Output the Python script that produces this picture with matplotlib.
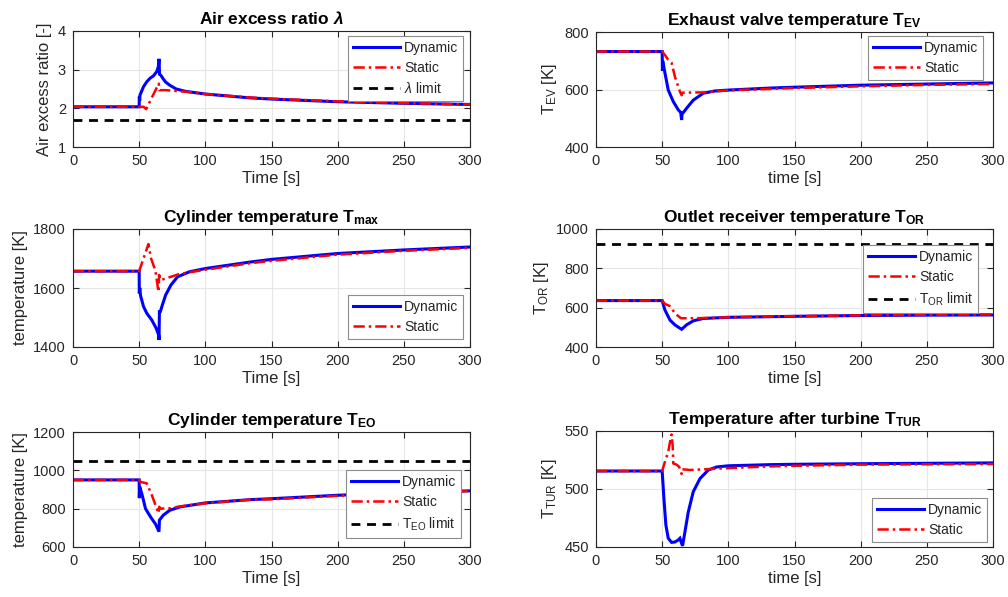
import matplotlib
matplotlib.use("Agg")
import matplotlib.pyplot as plt

plt.rcParams['font.family'] = ['Liberation Sans', 'DejaVu Sans']
plt.rcParams['mathtext.fontset'] = 'custom'
plt.rcParams['mathtext.rm'] = 'Liberation Sans'
plt.rcParams['mathtext.it'] = 'Liberation Sans:italic'
plt.rcParams['mathtext.bf'] = 'Liberation Sans:bold'
plt.rcParams['mathtext.bfit'] = 'Liberation Sans:italic:bold'

# ---------------- data ----------------
lam_dyn_t = [0, 50, 50.1, 50.4, 50.6, 53.3, 55.8, 58.3, 60.8, 63.3, 64.5, 65, 65.4, 66.5, 68.2, 70, 73, 78, 85, 100, 133.8, 150, 200, 250, 300]
lam_dyn = [2.04, 2.04, 2.3, 2.2, 2.34, 2.56, 2.69, 2.78, 2.84, 2.95, 3.08, 3.28, 2.88, 2.85, 2.76, 2.68, 2.6, 2.5, 2.44, 2.37, 2.27, 2.24, 2.17, 2.13, 2.10]
lam_sta_t = [0, 53.3, 55.3, 64.8, 65.3, 70, 85, 100, 133.8, 150, 200, 250, 300]
lam_sta = [2.04, 2.04, 1.98, 2.64, 2.47, 2.47, 2.43, 2.37, 2.28, 2.25, 2.18, 2.135, 2.10]
lam_limit = 1.7

ev_dyn_t = [0, 50, 50.2, 50.4, 52, 54.6, 58.4, 62.2, 64, 64.7, 65.1, 66, 68.5, 73.5, 81, 90, 100, 131.5, 150, 200, 250, 300]
ev_dyn = [732, 732, 665, 700, 660, 598, 558, 529, 520, 494, 518, 520, 535, 563, 587, 595, 598, 605, 608, 615, 619, 623]
ev_sta_t = [0, 50, 52.1, 54.6, 57.1, 59.6, 63.5, 64.7, 65.3, 81, 100, 131.5, 150, 200, 250, 300]
ev_sta = [732, 732, 720, 703, 693, 645, 592, 580, 589, 590, 597, 602, 605, 611, 616, 619]

tmax_dyn_t = [0, 50, 50.1, 50.5, 51, 53.3, 55.8, 59.6, 62.9, 64.8, 65, 65.3, 66, 67.5, 70, 74, 79, 88, 100, 133.8, 150, 200, 250, 300]
tmax_dyn = [1657, 1657, 1582, 1600, 1575, 1537, 1514, 1491, 1463, 1440, 1424, 1520, 1520, 1542, 1576, 1610, 1638, 1655, 1666, 1688, 1697, 1717, 1729, 1739]
tmax_sta_t = [0, 50, 57, 59, 62.2, 64.6, 65.1, 66.4, 80.8, 100, 133.8, 150, 200, 250, 300]
tmax_sta = [1657, 1657, 1749, 1700, 1660, 1587, 1644, 1627, 1648, 1662, 1684, 1692, 1713, 1726, 1736]

tor_dyn_t = [0, 50, 52.1, 55.9, 59.7, 64.7, 68.5, 73.5, 81, 100, 131.5, 150, 200, 250, 300]
tor_dyn = [636, 636, 588, 537, 512, 490, 513, 533, 545, 551, 554, 556, 560, 562, 563]
tor_sta_t = [0, 50, 52.1, 55.9, 59.7, 64.2, 81, 100, 131.5, 150, 200, 250, 300]
tor_sta = [636, 636, 619, 608, 571, 546, 547, 551, 555, 557, 561, 564, 566]
tor_limit = 925

teo_dyn_t = [0, 50, 50.1, 50.4, 52.3, 54.8, 58.6, 62.4, 65, 65.3, 68.2, 73.2, 80.8, 100, 133.8, 150, 200, 250, 300]
teo_dyn = [950, 950, 855, 915, 870, 800, 757, 719, 680, 740, 766, 792, 809, 830, 847, 852, 870, 884, 893]
teo_sta_t = [0, 50, 50.8, 55.8, 59.6, 64.6, 65.2, 66, 73, 80.8, 100, 133.8, 150, 200, 250, 300]
teo_sta = [950, 950, 940, 932, 870, 776, 810, 800, 802, 812, 828, 847, 849, 867, 882, 892]
teo_limit = 1050

tur_dyn_t = [0, 50, 51.3, 52.8, 54.6, 57.1, 59.6, 62.1, 63.4, 64.7, 65.4, 67.2, 69.7, 73.5, 78.6, 84.9, 91.2, 100, 131.5, 150, 200, 300]
tur_dyn = [515.5, 515.5, 492, 469, 457.5, 454, 454.3, 456, 457.5, 453, 451, 463, 480, 497.7, 509, 516.4, 519, 520, 521, 521.3, 521.8, 522.5]
tur_sta_t = [0, 50, 52.1, 54.6, 56.4, 57.1, 57.9, 58.4, 60.9, 62.9, 64, 64.7, 65.2, 71, 100, 131.5, 150, 200, 250, 300]
tur_sta = [515.5, 515.5, 523.5, 532, 543.7, 547, 538, 522, 521, 519, 515, 513, 517, 516.4, 518, 519.5, 520, 521, 521.3, 521.5]

# ---------------- figure ----------------
W, H = 1008, 597
fig = plt.figure(figsize=(W / 100, H / 100), dpi=100)

def rect(l, t, r, b):
    return [l / W, 1 - b / H, (r - l) / W, (b - t) / H]

TXT = '#262626'
BLUE = '#0000ff'
RED = '#ff0000'
dashdot = (0, (4.5, 1.6, 1.0, 1.6))
dashed = (0, (3.2, 2.4))

def setup(ax, ylim, yticks, xlabel, ylabel, title):
    ax.set_xlim(0, 300)
    ax.set_ylim(*ylim)
    ax.set_xticks([0, 50, 100, 150, 200, 250, 300])
    ax.set_yticks(yticks)
    ax.grid(True, color='#e6e6e6', linewidth=0.8)
    ax.set_axisbelow(True)
    ax.tick_params(direction='in', top=True, right=True, length=4, width=0.8,
                   labelsize=10.5, colors=TXT, pad=5)
    for s in ax.spines.values():
        s.set_color(TXT)
        s.set_linewidth(0.8)
    ax.set_xlabel(xlabel, fontsize=12, color=TXT, labelpad=2)
    ax.set_ylabel(ylabel, fontsize=12, color=TXT, labelpad=4)
    ax.set_title(title, fontsize=12.5, fontweight='bold', color='black', pad=5)

def plot_pair(ax, td, vd, ts, vs):
    ax.plot(td, vd, color=BLUE, lw=2.2, label='Dynamic', solid_joinstyle='miter')
    ax.plot(ts, vs, color=RED, lw=1.8, linestyle=dashdot, label='Static')

def legend(ax, x, y):
    lg = ax.legend(loc='upper left', bbox_to_anchor=(x / W, 1 - y / H),
                   bbox_transform=fig.transFigure, borderaxespad=0,
                   fontsize=10, frameon=True, fancybox=False, framealpha=1,
                   edgecolor='#8c8c8c', handlelength=3.4, handletextpad=0.3,
                   borderpad=0.35, labelspacing=0.45)
    lg.get_frame().set_linewidth(0.8)
    for t in lg.get_texts():
        t.set_color(TXT)
    return lg

L, R = 73, 470
L2, R2 = 596, 993

# 1 air excess ratio
ax = fig.add_axes(rect(L, 31, R, 147))
plot_pair(ax, lam_dyn_t, lam_dyn, lam_sta_t, lam_sta)
ax.axhline(lam_limit, color='black', lw=2.0, linestyle=dashed, label=r'$\lambda$ limit')
setup(ax, (1, 4), [1, 2, 3, 4], 'Time [s]', 'Air excess ratio [-]', r'Air excess ratio $\mathbfit{\lambda}$')
legend(ax, 348, 36)

# 2 exhaust valve
ax = fig.add_axes(rect(L2, 32, R2, 147))
plot_pair(ax, ev_dyn_t, ev_dyn, ev_sta_t, ev_sta)
setup(ax, (400, 800), [400, 600, 800], 'time [s]', r'T$_{\mathrm{EV}}$ [K]',
      r'Exhaust valve temperature T$_{\mathbf{EV}}$')
legend(ax, 868, 36)

# 3 Tmax
ax = fig.add_axes(rect(L, 229, R, 347))
plot_pair(ax, tmax_dyn_t, tmax_dyn, tmax_sta_t, tmax_sta)
setup(ax, (1400, 1800), [1400, 1600, 1800], 'Time [s]', 'temperature [K]',
      r'Cylinder temperature T$_{\mathbf{max}}$')
legend(ax, 348, 295)

# 4 T_OR
ax = fig.add_axes(rect(L2, 229, R2, 347))
plot_pair(ax, tor_dyn_t, tor_dyn, tor_sta_t, tor_sta)
ax.axhline(tor_limit, color='black', lw=2.0, linestyle=dashed, label=r'T$_{\mathrm{OR}}$ limit')
setup(ax, (400, 1000), [400, 600, 800, 1000], 'time [s]', r'T$_{\mathrm{OR}}$ [K]',
      r'Outlet receiver temperature T$_{\mathbf{OR}}$')
legend(ax, 863, 245)

# 5 T_EO
ax = fig.add_axes(rect(L, 432, R, 547))
plot_pair(ax, teo_dyn_t, teo_dyn, teo_sta_t, teo_sta)
ax.axhline(teo_limit, color='black', lw=2.0, linestyle=dashed, label=r'T$_{\mathrm{EO}}$ limit')
setup(ax, (600, 1200), [600, 800, 1000, 1200], 'Time [s]', 'temperature [K]',
      r'Cylinder temperature T$_{\mathbf{EO}}$')
legend(ax, 346, 470)

# 6 T_TUR
ax = fig.add_axes(rect(L2, 431, R2, 547))
plot_pair(ax, tur_dyn_t, tur_dyn, tur_sta_t, tur_sta)
setup(ax, (450, 550), [450, 500, 550], 'time [s]', r'T$_{\mathrm{TUR}}$ [K]',
      r'Temperature after turbine T$_{\mathbf{TUR}}$')
legend(ax, 872, 498)

fig.savefig('out.png', dpi=100, facecolor='white')
